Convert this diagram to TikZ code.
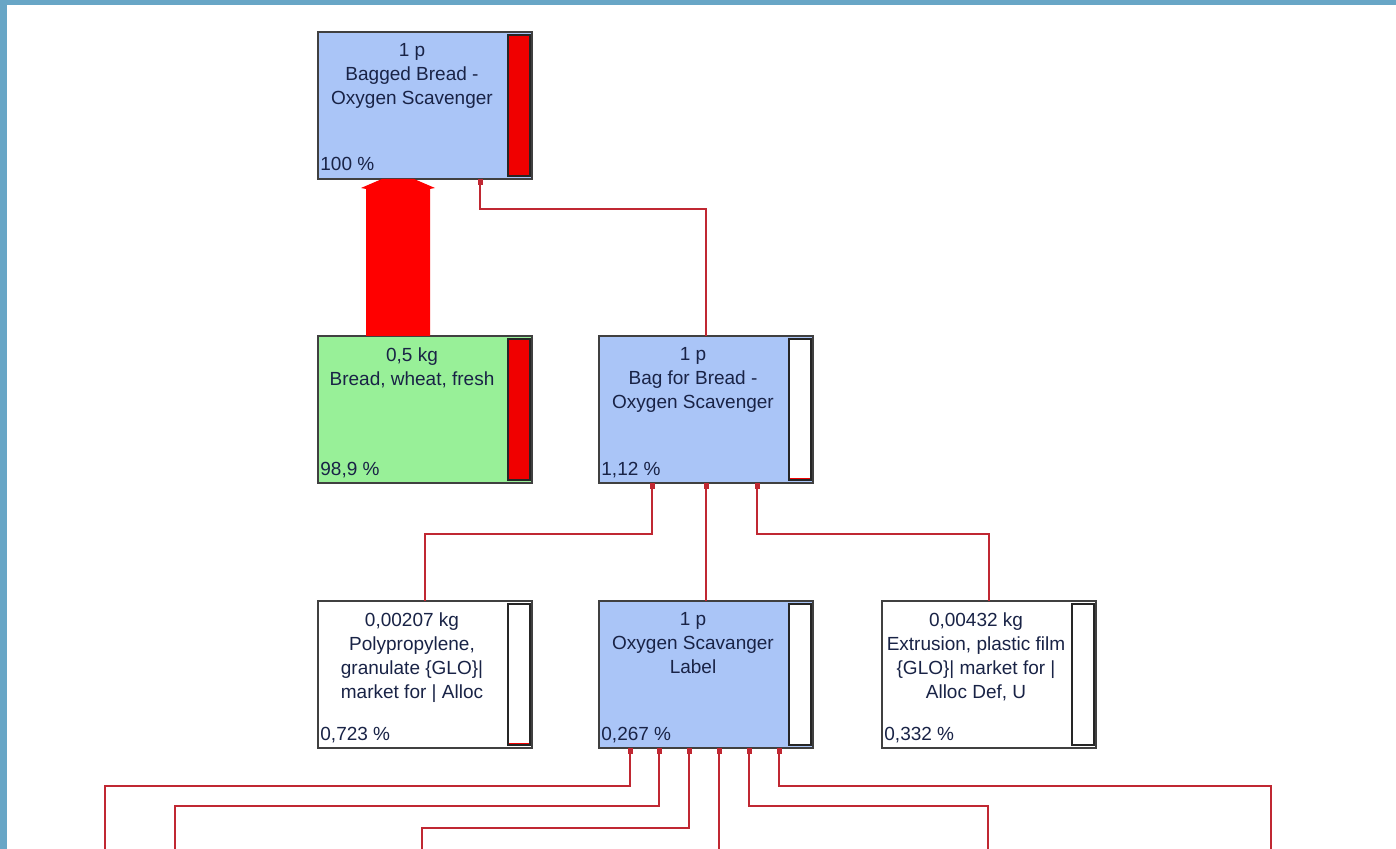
\documentclass[tikz,border=0pt]{standalone}
\usepackage{fontspec}
\setmainfont{Liberation Sans}
\usetikzlibrary{positioning,calc}
\usetikzlibrary{arrows.meta}
\definecolor{BoxBlue}{RGB}{170,197,247}
\definecolor{BoxGreen}{RGB}{152,240,152}
\definecolor{BarRed}{RGB}{240,0,0}
\definecolor{LinkRed}{RGB}{192,40,50}
\definecolor{FrameBlue}{RGB}{104,166,198}
\definecolor{FrameLight}{RGB}{128,208,232}
\definecolor{TextNavy}{RGB}{25,35,70}
\tikzset{
	proc/.style={draw=black!75,line width=1pt,anchor=north west,inner sep=0pt,outer sep=0pt,
		minimum width=107pt,minimum height=73.5pt},
	ptitle/.style={anchor=north,align=center,inner sep=0pt,text=TextNavy,
		font=\fontsize{9.5}{12}\selectfont},
	pshare/.style={anchor=base west,inner sep=0pt,text=TextNavy,
		font=\fontsize{9.5}{12}\selectfont},
	bar/.style={draw=black!85,line width=0.8pt},
	link/.style={draw=LinkRed,line width=0.75pt,-{Rectangle[length=3pt,width=2.5pt]}},
	flow/.style={fill=red},
}
\begin{document}
\begin{tikzpicture}[x=0.5pt,y=-0.5pt]
	\useasboundingbox (0,0) rectangle (1396,849);
	\fill[FrameBlue] (0,0) rectangle (7,849);
	\shade[left color=FrameBlue,middle color=FrameLight,right color=FrameBlue] (0,0) rectangle (1396,5);

	% process boxes
	\node[proc,fill=BoxBlue] (bagged) at (318,32) {};
	\node[proc,fill=BoxGreen] (bread) at (318,336) {};
	\node[proc,fill=BoxBlue] (bag) at (599,336) {};
	\node[proc,fill=white] (pp) at (318,601) {};
	\node[proc,fill=BoxBlue] (label) at (599,601) {};
	\node[proc,fill=white] (extr) at (882,601) {};

	\node[ptitle] (bagged-t) at ($(bagged.north west)+(94,11)$) {1 p\\Bagged Bread -\\Oxygen Scavenger};
	\node[ptitle] (bread-t) at ($(bread.north west)+(94,11)$) {0,5 kg\\Bread, wheat, fresh};
	\node[ptitle] (bag-t) at ($(bag.north west)+(94,11)$) {1 p\\Bag for Bread -\\Oxygen Scavenger};
	\node[ptitle] (pp-t) at ($(pp.north west)+(94,11)$) {0,00207 kg\\Polypropylene,\\granulate \{GLO\}|\\market for | Alloc};
	\node[ptitle] (label-t) at ($(label.north west)+(94,11)$) {1 p\\Oxygen Scavanger\\Label};
	\node[ptitle] (extr-t) at ($(extr.north west)+(94,11)$) {0,00432 kg\\Extrusion, plastic film\\\{GLO\}| market for |\\Alloc Def, U};

	\foreach \b/\s in {bagged/{100 \%},bread/{98,9 \%},bag/{1,12 \%},pp/{0,723 \%},label/{0,267 \%},extr/{0,332 \%}}
		\node[pshare] (\b-p) at ($(\b.south west)+(2,-8)$) {\s};

	% score bars
	\foreach \b/\h in {bagged/141,bread/141,bag/2,pp/2,label/0,extr/0}{
		\fill[white] ($(\b.south east)+(-24,-3)$) rectangle ($(\b.north east)+(-2,3)$);
		\fill[BarRed] ($(\b.south east)+(-24,-3)$) rectangle ++(22,-\h);
		\draw[bar] ($(\b.south east)+(-24,-3)$) rectangle ($(\b.north east)+(-2,3)$);
	}

	% main flow
	\fill[flow] ($(bread.north west)+(48,0)$) -- ($(bagged.south west)+(48,10)$)
		-- ($(bagged.south west)+(43,9)$) -- ($(bagged.south west)+(64,0)$)
		-- ($(bagged.south west)+(96,0)$) -- ($(bagged.south west)+(117,9)$)
		-- ($(bagged.south west)+(112,10)$) -- ($(bread.north west)+(112,0)$) -- cycle;

	% links
	\draw[link] (bag.north) |- ($(bagged.south)+(55,30)$) -- ($(bagged.south)+(55,0)$);
	\draw[link] (pp.north) |- ($(bag.south)+(-54,51)$) -- ($(bag.south)+(-54,0)$);
	\draw[link] (label.north) -- (bag.south);
	\draw[link] (extr.north) |- ($(bag.south)+(51,51)$) -- ($(bag.south)+(51,0)$);

	\coordinate (o1) at (105,849);
	\coordinate (o2) at (175,849);
	\coordinate (o3) at (422,849);
	\coordinate (o4) at (719,849);
	\coordinate (o5) at (988,849);
	\coordinate (o6) at (1271,849);
	\foreach \dx/\lvl/\o in {-76/38/o1,-47/58/o2,-17/80/o3,13/80/o4,43/58/o5,73/38/o6}
		\draw[link] (\o) |- ($(label.south)+(\dx,\lvl)$) -- ($(label.south)+(\dx,0)$);
\end{tikzpicture}
\end{document}
